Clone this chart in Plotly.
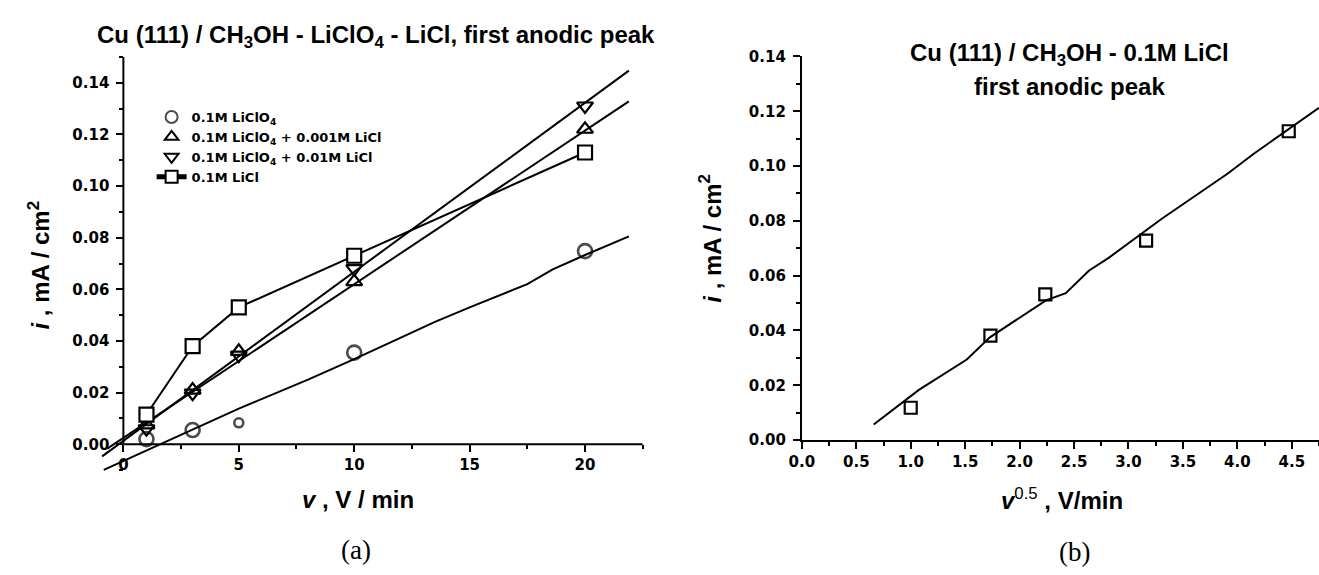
import plotly.graph_objects as go

W, H = 1319, 575

# ---------------- data: panel (a) ----------------
scan_rate = [1, 3, 5, 10, 20]                       # v, V/min
i_licLO4 = [0.0020, 0.0055, 0.0083, 0.0355, 0.0748]  # 0.1M LiClO4
i_001 = [0.0075, 0.0210, 0.0360, 0.0630, 0.1220]     # + 0.001M LiCl
i_01 = [0.0060, 0.0198, 0.0345, 0.0680, 0.1310]      # + 0.01M LiCl
i_licl = [0.0115, 0.0380, 0.0530, 0.0730, 0.1130]    # 0.1M LiCl

fit_licLO4_x = [-0.85, 2.0, 5.0, 8.0, 10.0, 13.5, 15.0, 17.5, 18.6, 20.0, 21.9]
fit_licLO4_y = [-0.0099, 0.0017, 0.0138, 0.0250, 0.0330, 0.0474, 0.0530, 0.0620, 0.0677, 0.0733, 0.0805]
fit_001_x = [-0.70, 21.9]
fit_001_y = [-0.0017, 0.1328]
fit_01_x = [-0.92, 21.9]
fit_01_y = [-0.0047, 0.1447]

# ---------------- data: panel (b) ----------------
sqrt_v = [1.000, 1.732, 2.236, 3.162, 4.472]
i_b = [0.0118, 0.0381, 0.0532, 0.0728, 0.1127]
fit_b_x = [0.66, 1.075, 1.515, 1.727, 2.242, 2.424, 2.636, 2.818, 3.303, 3.909, 4.151, 4.469, 4.75]
fit_b_y = [0.0057, 0.0183, 0.0294, 0.0375, 0.0510, 0.0536, 0.0618, 0.0665, 0.0807, 0.0972, 0.1045, 0.1135, 0.1213]

x_ticks_a = [0, 5, 10, 15, 20]
y_ticks = [0.00, 0.02, 0.04, 0.06, 0.08, 0.10, 0.12, 0.14]
x_ticks_b = [0.0, 0.5, 1.0, 1.5, 2.0, 2.5, 3.0, 3.5, 4.0, 4.5]

# ---------------- styles ----------------
BLACK = "#000000"
CLEAR = "rgba(0,0,0,0)"
TICKFONT = dict(family="DejaVu Sans", size=15, color=BLACK, weight="bold")
LEGFONT = dict(family="DejaVu Sans", size=13, color=BLACK, weight="bold")
TITLEFONT = dict(family="Liberation Sans", size=24, color=BLACK)
AXTITLEFONT = dict(family="Liberation Sans", size=24, color=BLACK)
circle_sizes = [14, 14, 9, 14, 14]

fig = go.Figure()
ln = dict(color=BLACK, width=2)

# fit lines (a)
fig.add_trace(go.Scatter(x=fit_licLO4_x, y=fit_licLO4_y, mode="lines", line=ln,
                         showlegend=False, hoverinfo="skip", xaxis="x", yaxis="y"))
fig.add_trace(go.Scatter(x=fit_001_x, y=fit_001_y, mode="lines", line=ln,
                         showlegend=False, hoverinfo="skip", xaxis="x", yaxis="y"))
fig.add_trace(go.Scatter(x=fit_01_x, y=fit_01_y, mode="lines", line=ln,
                         showlegend=False, hoverinfo="skip", xaxis="x", yaxis="y"))

# markers (a)
fig.add_trace(go.Scatter(x=scan_rate, y=i_licLO4, mode="markers", name="0.1M LiClO<sub>4</sub>",
                         marker=dict(symbol="circle", size=circle_sizes, color=CLEAR,
                                     line=dict(width=2.6, color=BLACK)),
                         xaxis="x", yaxis="y", cliponaxis=False))
fig.add_trace(go.Scatter(x=scan_rate, y=i_001, mode="markers", name="0.1M LiClO<sub>4</sub> + 0.001M LiCl",
                         marker=dict(symbol="triangle-up", size=14, color=CLEAR,
                                     line=dict(width=2.2, color=BLACK)),
                         xaxis="x", yaxis="y", cliponaxis=False))
fig.add_trace(go.Scatter(x=scan_rate, y=i_01, mode="markers", name="0.1M LiClO<sub>4</sub> + 0.01M LiCl",
                         marker=dict(symbol="triangle-down", size=14, color=CLEAR,
                                     line=dict(width=2.2, color=BLACK)),
                         xaxis="x", yaxis="y", cliponaxis=False))
fig.add_trace(go.Scatter(x=scan_rate, y=i_licl, mode="lines+markers", name="0.1M LiCl",
                         line=ln,
                         marker=dict(symbol="square", size=14, color="white", line=dict(width=2.2, color=BLACK)),
                         xaxis="x", yaxis="y", cliponaxis=False))

# panel (b)
fig.add_trace(go.Scatter(x=fit_b_x, y=fit_b_y, mode="lines", line=ln, showlegend=False,
                         hoverinfo="skip", xaxis="x2", yaxis="y2"))
fig.add_trace(go.Scatter(x=sqrt_v, y=i_b, mode="markers", showlegend=False,
                         marker=dict(symbol="square", size=12, color=CLEAR, line=dict(width=2.2, color=BLACK)),
                         xaxis="x2", yaxis="y2", cliponaxis=False))

# ---------------- axes geometry (pixels) ----------------
ax_x0_px, ax_x1_px = 83.5, 636.0      # panel (a) domain in px
ay_top_px, ay_bot_px = 49.5, 481.3
xa_range = [-1.2, 22.5]
ya_range = [-0.012, 0.15]

def px_x(p):
    return p / W

def px_y(p):
    return (H - p) / H

# position of the data zero lines in paper coords
x0_paper = px_x(ax_x0_px) + (0 - xa_range[0]) / (xa_range[1] - xa_range[0]) * (px_x(ax_x1_px) - px_x(ax_x0_px))
y0_paper = px_y(ay_bot_px) + (0 - ya_range[0]) / (ya_range[1] - ya_range[0]) * (px_y(ay_top_px) - px_y(ay_bot_px))

common = dict(showgrid=False, zeroline=False, ticks="outside", tickwidth=2, ticklen=7,
              tickcolor=BLACK, tickfont=TICKFONT)

fig.update_layout(
    width=W, height=H,
    margin=dict(l=0, r=0, t=0, b=0),
    paper_bgcolor="white", plot_bgcolor="rgba(0,0,0,0)",
    xaxis=dict(domain=[px_x(ax_x0_px), px_x(ax_x1_px)], range=xa_range, anchor="free", position=y0_paper,
               showline=False, tickvals=x_ticks_a, ticktext=[str(v) for v in x_ticks_a],
               minor=dict(ticks="outside", dtick=2.5, tick0=0, ticklen=4, tickwidth=2, tickcolor=BLACK),
               **common),
    yaxis=dict(domain=[px_y(ay_bot_px), px_y(ay_top_px)], range=ya_range, anchor="free", position=x0_paper,
               showline=False, tickvals=y_ticks, ticktext=[f"{v:.2f}" for v in y_ticks],
               ticklabelstandoff=4,
               minor=dict(ticks="outside", dtick=0.01, tick0=0, ticklen=4, tickwidth=2, tickcolor=BLACK),
               **common),
    xaxis2=dict(domain=[px_x(796.7), 1.0], range=[0, 4.75], anchor="y2",
                showline=True, linewidth=2, linecolor=BLACK,
                tickvals=x_ticks_b, ticktext=[f"{v:.1f}" for v in x_ticks_b],
                minor=dict(ticks="outside", dtick=0.25, tick0=0, ticklen=4, tickwidth=2, tickcolor=BLACK),
                **common),
    yaxis2=dict(domain=[px_y(445), px_y(49)], range=[0, 0.14], anchor="x2",
                showline=True, linewidth=2, linecolor=BLACK,
                tickvals=y_ticks, ticktext=[f"{v:.2f}" for v in y_ticks],
                ticklabelstandoff=4,
                minor=dict(ticks="outside", dtick=0.01, tick0=0, ticklen=4, tickwidth=2, tickcolor=BLACK),
                **common),
    legend=dict(x=px_x(140), y=px_y(96), xanchor="left", yanchor="top", font=LEGFONT,
                bgcolor="rgba(0,0,0,0)", itemsizing="constant", tracegroupgap=0),
    showlegend=True,
)

# axis lines of panel (a), from the data origin to the range ends
fig.add_shape(type="line", xref="x", yref="y", x0=0, y0=0, x1=xa_range[1], y1=0, line=dict(color=BLACK, width=2))
fig.add_shape(type="line", xref="x", yref="y", x0=0, y0=0, x1=0, y1=ya_range[1], line=dict(color=BLACK, width=2))

ann = []
ann.append(dict(text="<b>Cu (111) / CH<sub>3</sub>OH - LiClO<sub>4</sub> - LiCl, first anodic peak</b>",
                x=px_x(367), y=px_y(28), xref="paper", yref="paper", xanchor="center", yanchor="middle",
                showarrow=False, font=TITLEFONT))
ann.append(dict(text="<b>Cu (111) / CH<sub>3</sub>OH - 0.1M LiCl</b>",
                x=px_x(1067), y=px_y(47), xref="paper", yref="paper", xanchor="center", yanchor="middle",
                showarrow=False, font=TITLEFONT))
ann.append(dict(text="<b>first anodic peak</b>",
                x=px_x(1067), y=px_y(80), xref="paper", yref="paper", xanchor="center", yanchor="middle",
                showarrow=False, font=TITLEFONT))
ann.append(dict(text="<b><i>v</i> , V / min</b>", x=px_x(348), y=px_y(506), xref="paper", yref="paper",
                xanchor="center", yanchor="middle", showarrow=False, font=AXTITLEFONT))
ann.append(dict(text="<b><i>v</i></b><sup>0.5</sup><b> , V/min</b>", x=px_x(1059), y=px_y(506), xref="paper", yref="paper",
                xanchor="center", yanchor="middle", showarrow=False, font=AXTITLEFONT))
ann.append(dict(text="<b><i>i</i> , mA / cm<sup>2</sup></b>", x=px_x(26), y=px_y(264), xref="paper", yref="paper",
                xanchor="center", yanchor="middle", textangle=-90, showarrow=False, font=AXTITLEFONT))
ann.append(dict(text="<b><i>i</i> , mA / cm<sup>2</sup></b>", x=px_x(704), y=px_y(237), xref="paper", yref="paper",
                xanchor="center", yanchor="middle", textangle=-90, showarrow=False, font=AXTITLEFONT))
ann.append(dict(text="(a)", x=px_x(346), y=px_y(558), xref="paper", yref="paper", xanchor="center",
                yanchor="middle", showarrow=False, font=dict(family="Liberation Serif", size=27, color=BLACK)))
ann.append(dict(text="(b)", x=px_x(1072), y=px_y(561), xref="paper", yref="paper", xanchor="center",
                yanchor="middle", showarrow=False, font=dict(family="Liberation Serif", size=27, color=BLACK)))
fig.update_layout(annotations=ann)

fig.write_html("out.html")
